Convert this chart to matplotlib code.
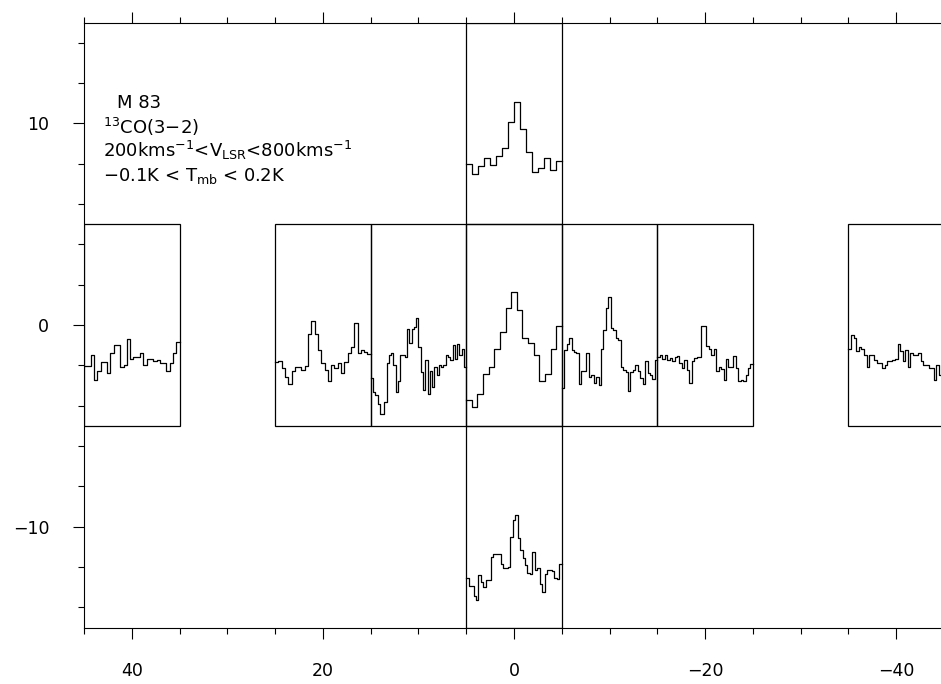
import numpy as np
import matplotlib
matplotlib.use("Agg")
import matplotlib.pyplot as plt
from matplotlib.patches import Rectangle
from matplotlib.ticker import MultipleLocator

# window drawn inside every box
v_lo, v_hi = 200.0, 800.0     # km/s
t_lo, t_hi = -0.1, 0.2        # K
box = 10.0                    # arcsec

# Tmb [K] per channel, one list per pointing (offset in arcsec)
spec_p40 = [-0.011, -0.011, 0.006, -0.032, -0.019, -0.005, -0.005, -0.022, 0.008, 0.020,
            0.020, -0.013, -0.009, 0.029, 0.000, 0.003, 0.003, 0.009, -0.009, 0.000,
            0.000, -0.003, -0.002, -0.007, -0.007, -0.019, -0.007, 0.008, 0.025]
spec_p20 = [-0.005, -0.003, -0.014, -0.027, -0.038, -0.019, -0.012, -0.013, -0.017, -0.011,
            0.037, 0.056, 0.037, 0.013, -0.007, -0.017, -0.034, -0.009, -0.014, -0.006,
            -0.022, -0.005, 0.008, 0.017, 0.053, 0.008, 0.013, 0.010, 0.007]
spec_p10 = [-0.029, -0.049, -0.054, -0.068, -0.083, -0.083, -0.064, -0.006, 0.006, 0.008,
            -0.010, -0.049, -0.034, 0.005, 0.005, 0.003, 0.044, 0.023, 0.044, 0.047,
            0.061, 0.018, -0.020, -0.047, -0.002, -0.053, -0.018, -0.042, -0.012, -0.025,
            -0.010, -0.012, -0.010, 0.005, 0.003, -0.002, 0.020, 0.000, 0.021, 0.005,
            0.015, -0.012]
spec_0 = [-0.062, -0.072, -0.052, -0.023, -0.012, 0.015, 0.039, 0.075, 0.099, 0.072,
          0.030, 0.023, 0.005, -0.033, -0.023, 0.014, 0.048]
spec_m10 = [-0.043, 0.013, 0.021, 0.031, 0.013, 0.010, 0.008, -0.038, -0.018, -0.019,
            0.009, -0.027, -0.024, -0.037, -0.027, -0.039, 0.015, 0.043, 0.076, 0.091,
            0.045, 0.043, 0.030, 0.028, -0.013, -0.017, -0.020, -0.048, -0.020, -0.017,
            -0.009, -0.018, -0.029, -0.038, -0.004, -0.022, -0.024, -0.030, -0.002]
spec_m20 = [0.003, 0.005, -0.001, 0.005, -0.002, 0.001, -0.004, 0.003, 0.004, -0.007,
            -0.014, -0.002, -0.017, -0.037, -0.004, 0.001, 0.003, 0.003, 0.049, 0.048,
            0.019, 0.014, 0.006, 0.014, -0.019, -0.013, -0.015, -0.032, 0.000, -0.012,
            -0.013, 0.004, -0.014, -0.033, -0.032, -0.033, -0.024, -0.014, -0.008]
spec_m40 = [0.015, 0.035, 0.030, 0.011, 0.018, 0.015, 0.006, -0.012, 0.005, 0.006,
            -0.002, -0.006, -0.006, -0.014, -0.009, -0.004, -0.004, -0.002, -0.001, 0.021,
            0.011, -0.004, 0.013, -0.013, 0.008, 0.006, 0.005, 0.008, -0.004, -0.009,
            -0.010, -0.014, -0.014, -0.032, -0.009, -0.025, -0.025]
spec_n10 = [-0.011, -0.025, -0.014, -0.002, -0.012, 0.001, 0.013, 0.052, 0.082, 0.041,
            0.008, -0.022, -0.016, -0.002, -0.020, -0.006]
spec_s10 = [-0.027, -0.039, -0.038, -0.053, -0.059, -0.022, -0.032, -0.040, -0.030, -0.030,
            0.005, 0.010, 0.009, 0.009, -0.005, -0.011, -0.011, -0.010, 0.034, 0.060,
            0.067, 0.033, 0.016, 0.003, -0.007, -0.019, -0.020, 0.013, -0.014, -0.012,
            -0.035, -0.047, -0.020, -0.014, -0.015, -0.016, -0.027, -0.028, -0.006]

pointings = [(40, 0), (20, 0), (10, 0), (0, 0), (-10, 0), (-20, 0), (-40, 0), (0, 10), (0, -10)]
spectra = [spec_p40, spec_p20, spec_p10, spec_0, spec_m10, spec_m20, spec_m40, spec_n10, spec_s10]

fig = plt.figure(figsize=(9.41, 6.84), dpi=100)
ax = fig.add_axes([0.0893, 0.0826, 0.9139, 0.8845])

lw = 0.9
for (xc, yc), t in zip(pointings, spectra):
    ax.add_patch(Rectangle((xc - box / 2, yc - box / 2), box, box,
                           fill=False, ec="black", lw=lw))
    t = np.asarray(t)
    v_edges = np.linspace(v_lo, v_hi, len(t) + 1)
    # velocity runs left->right on screen, x axis is reversed
    x_edges = xc + box / 2 - (v_edges - v_lo) / (v_hi - v_lo) * box
    y_vals = yc - box / 2 + (t - t_lo) / (t_hi - t_lo) * box
    xs = np.repeat(x_edges, 2)[1:-1]
    ys = np.repeat(y_vals, 2)
    ax.plot(xs, ys, color="black", lw=lw)

ax.set_xlim(45, -45)
ax.set_ylim(-15, 15)

ax.xaxis.set_major_locator(MultipleLocator(20))
ax.xaxis.set_minor_locator(MultipleLocator(5))
ax.yaxis.set_major_locator(MultipleLocator(10))
ax.yaxis.set_minor_locator(MultipleLocator(2))
ax.tick_params(which="both", direction="out", top=True, right=True, width=0.8,
               labelsize=12.5, pad=17, color="black")
ax.tick_params(which="major", length=8)
ax.tick_params(which="minor", length=4.3)
for s in ax.spines.values():
    s.set_linewidth(0.8)

fs = 13
ax.text(41.5, 11.0, "M 83", fontsize=fs, ha="left", va="center")
ax.text(43.0, 9.8, r"$^{13}$CO(3$-$2)", fontsize=fs, ha="left", va="center")
ax.text(43.0, 8.65, r"200kms$^{-1}$<V$_{\mathrm{LSR}}$<800kms$^{-1}$", fontsize=fs,
        ha="left", va="center")
ax.text(43.0, 7.4, r"$-$0.1K < T$_{\mathrm{mb}}$ < 0.2K", fontsize=fs, ha="left", va="center")

fig.savefig("out.png", dpi=100)
